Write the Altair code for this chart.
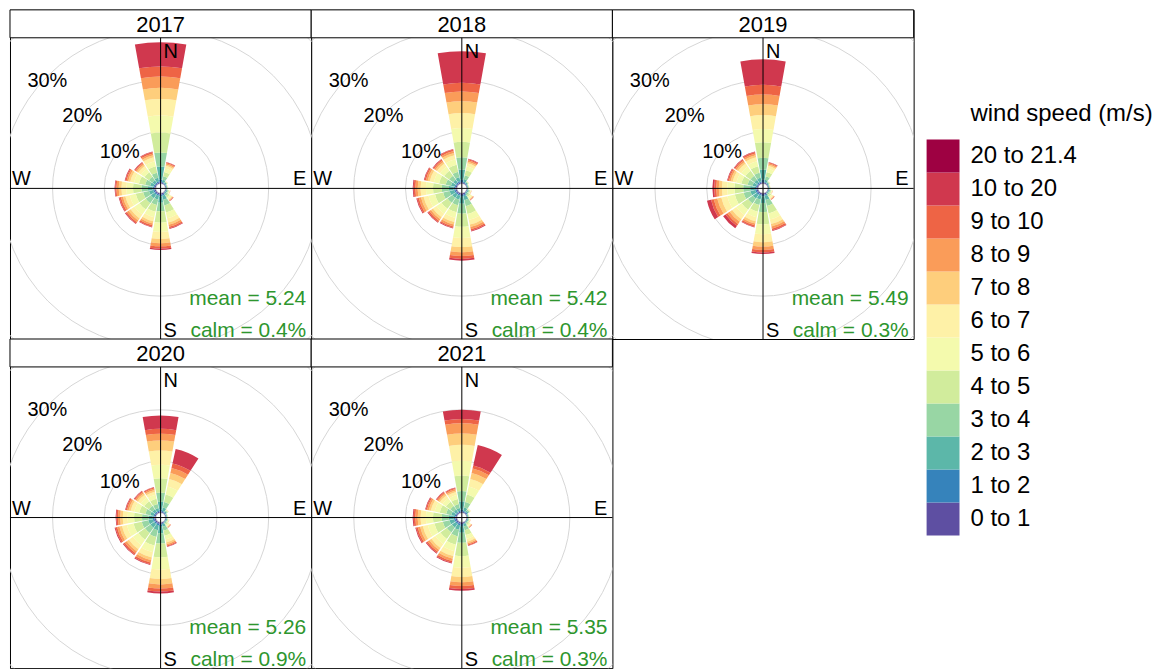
import math
import altair as alt
import pandas as pd

FONT = "Liberation Sans"

YEARS = ["2017", "2018", "2019", "2020", "2021"]
MEANS = ["5.24", "5.42", "5.49", "5.26", "5.35"]
CALMS = ["0.4%", "0.4%", "0.3%", "0.9%", "0.3%"]

DIRECTIONS = [0, 22.5, 45, 67.5, 90, 112.5, 135, 157.5,
              180, 202.5, 225, 247.5, 270, 292.5, 315, 337.5]

BINS = ["0 to 1", "1 to 2", "2 to 3", "3 to 4", "4 to 5", "5 to 6",
        "6 to 7", "7 to 8", "8 to 9", "9 to 10", "10 to 20", "20 to 21.4"]
COLORS = ["#5E4FA2", "#3683BB", "#5CB7A9", "#98D6A4", "#D1EC9C", "#F4FAAD",
          "#FEF1A7", "#FECE7C", "#FA9C59", "#EE6445", "#D0384E", "#9E0142"]

# frequency (%) per direction (rows, in DIRECTIONS order) and speed bin (columns, in BINS order)
F2017 = [
    [0.29, 0.49, 2.52, 2.72, 3.88, 3.30, 3.25, 2.15, 2.20, 1.98, 4.72, 0],
    [0.15, 0.15, 0.47, 0.69, 0.86, 0.69, 0.52, 0.28, 0.24, 0.17, 0.08, 0],
    [0.10, 0.16, 0.20, 0.14, 0.09, 0.05, 0.03, 0.02, 0.01, 0, 0, 0],
    [0.07, 0.10, 0.12, 0.09, 0.06, 0.03, 0.02, 0.01, 0, 0, 0, 0],
    [0.07, 0.10, 0.12, 0.09, 0.06, 0.03, 0.02, 0.01, 0, 0, 0, 0],
    [0.09, 0.12, 0.20, 0.18, 0.15, 0.10, 0.07, 0.04, 0.03, 0.01, 0.01, 0],
    [0.09, 0.09, 0.25, 0.34, 0.40, 0.32, 0.25, 0.14, 0.12, 0.07, 0.03, 0],
    [0.25, 0.25, 0.78, 1.14, 1.42, 1.14, 0.85, 0.46, 0.39, 0.28, 0.14, 0],
    [0.30, 0.30, 1.20, 1.70, 2.20, 1.80, 1.40, 0.80, 0.60, 0.45, 0.25, 0],
    [0.24, 0.24, 0.75, 1.09, 1.36, 1.09, 0.82, 0.44, 0.37, 0.27, 0.13, 0],
    [0.26, 0.26, 0.83, 1.20, 1.50, 1.20, 0.90, 0.49, 0.41, 0.30, 0.15, 0],
    [0.26, 0.26, 0.81, 1.18, 1.48, 1.18, 0.89, 0.48, 0.41, 0.30, 0.15, 0],
    [0.29, 0.29, 0.92, 1.28, 1.63, 1.28, 0.97, 0.53, 0.44, 0.25, 0.12, 0],
    [0.22, 0.22, 0.68, 0.99, 1.24, 0.99, 0.74, 0.40, 0.34, 0.25, 0.13, 0],
    [0.19, 0.19, 0.58, 0.85, 1.06, 0.85, 0.64, 0.34, 0.29, 0.21, 0.10, 0],
    [0.22, 0.22, 0.70, 1.02, 1.28, 1.02, 0.77, 0.42, 0.35, 0.26, 0.14, 0],
]
F2018 = [
    [0.25, 0.45, 2.00, 2.40, 3.00, 2.70, 2.90, 2.30, 1.90, 1.70, 6.15, 0],
    [0.17, 0.17, 0.54, 0.79, 0.99, 0.79, 0.59, 0.32, 0.27, 0.20, 0.12, 0],
    [0.10, 0.16, 0.20, 0.14, 0.09, 0.05, 0.03, 0.02, 0.01, 0, 0, 0],
    [0.07, 0.10, 0.12, 0.09, 0.06, 0.03, 0.02, 0.01, 0, 0, 0, 0],
    [0.07, 0.10, 0.12, 0.09, 0.06, 0.03, 0.02, 0.01, 0, 0, 0, 0],
    [0.09, 0.12, 0.20, 0.18, 0.15, 0.10, 0.07, 0.04, 0.03, 0.01, 0.01, 0],
    [0.08, 0.08, 0.23, 0.30, 0.37, 0.30, 0.22, 0.12, 0.10, 0.07, 0.03, 0],
    [0.27, 0.27, 0.84, 1.22, 1.52, 1.22, 0.91, 0.49, 0.42, 0.30, 0.14, 0],
    [0.33, 0.33, 1.35, 1.95, 2.55, 2.20, 1.75, 1.00, 0.75, 0.55, 0.34, 0],
    [0.25, 0.25, 0.77, 1.12, 1.40, 1.12, 0.84, 0.46, 0.39, 0.27, 0.13, 0],
    [0.25, 0.25, 0.79, 1.15, 1.44, 1.15, 0.86, 0.47, 0.40, 0.29, 0.15, 0],
    [0.28, 0.28, 0.89, 1.30, 1.62, 1.30, 0.97, 0.53, 0.45, 0.32, 0.16, 0],
    [0.30, 0.30, 0.95, 1.38, 1.72, 1.38, 1.03, 0.56, 0.47, 0.34, 0.17, 0],
    [0.23, 0.23, 0.73, 1.06, 1.32, 1.06, 0.79, 0.43, 0.36, 0.26, 0.13, 0],
    [0.21, 0.21, 0.66, 0.96, 1.20, 0.96, 0.72, 0.39, 0.33, 0.24, 0.12, 0],
    [0.24, 0.24, 0.76, 1.10, 1.38, 1.10, 0.83, 0.45, 0.38, 0.28, 0.14, 0],
]
F2019 = [
    [0.25, 0.45, 2.00, 2.30, 3.00, 2.60, 2.70, 2.10, 1.90, 1.90, 4.95, 0],
    [0.15, 0.15, 0.47, 0.69, 0.86, 0.69, 0.52, 0.28, 0.24, 0.17, 0.08, 0],
    [0.10, 0.16, 0.20, 0.14, 0.09, 0.05, 0.03, 0.02, 0.01, 0, 0, 0],
    [0.07, 0.10, 0.12, 0.09, 0.06, 0.03, 0.02, 0.01, 0, 0, 0, 0],
    [0.07, 0.10, 0.12, 0.09, 0.06, 0.03, 0.02, 0.01, 0, 0, 0, 0],
    [0.09, 0.12, 0.20, 0.18, 0.15, 0.10, 0.07, 0.04, 0.03, 0.01, 0.01, 0],
    [0.07, 0.07, 0.20, 0.29, 0.36, 0.29, 0.21, 0.12, 0.10, 0.07, 0.02, 0],
    [0.26, 0.26, 0.83, 1.20, 1.50, 1.20, 0.90, 0.49, 0.41, 0.30, 0.15, 0],
    [0.30, 0.30, 1.25, 1.80, 2.35, 1.95, 1.55, 0.85, 0.65, 0.50, 0.30, 0],
    [0.24, 0.24, 0.75, 1.09, 1.36, 1.09, 0.82, 0.44, 0.37, 0.27, 0.13, 0],
    [0.28, 0.28, 0.85, 1.20, 1.50, 1.25, 1.00, 0.60, 0.55, 0.42, 0.57, 0],
    [0.30, 0.30, 0.95, 1.35, 1.75, 1.50, 1.20, 0.80, 0.70, 0.55, 0.80, 0],
    [0.30, 0.30, 0.95, 1.35, 1.70, 1.40, 1.05, 0.60, 0.50, 0.40, 0.35, 0],
    [0.22, 0.22, 0.68, 0.99, 1.24, 0.99, 0.74, 0.40, 0.34, 0.25, 0.13, 0],
    [0.21, 0.21, 0.66, 0.96, 1.20, 0.96, 0.72, 0.39, 0.33, 0.24, 0.12, 0],
    [0.22, 0.22, 0.70, 1.02, 1.28, 1.02, 0.77, 0.42, 0.35, 0.26, 0.14, 0],
]
F2020 = [
    [0.20, 0.40, 1.50, 1.80, 2.80, 2.60, 2.80, 1.95, 1.30, 0.95, 2.60, 0],
    [0.12, 0.20, 0.70, 1.10, 1.50, 1.60, 1.50, 1.20, 1.00, 0.90, 2.88, 0],
    [0.12, 0.18, 0.24, 0.18, 0.12, 0.07, 0.05, 0.02, 0.01, 0.01, 0, 0],
    [0.07, 0.10, 0.12, 0.09, 0.06, 0.03, 0.02, 0.01, 0, 0, 0, 0],
    [0.07, 0.10, 0.12, 0.09, 0.06, 0.03, 0.02, 0.01, 0, 0, 0, 0],
    [0.08, 0.10, 0.16, 0.14, 0.12, 0.08, 0.06, 0.03, 0.02, 0.01, 0, 0],
    [0.06, 0.06, 0.17, 0.24, 0.30, 0.24, 0.18, 0.10, 0.08, 0.05, 0.02, 0],
    [0.17, 0.17, 0.54, 0.78, 0.98, 0.78, 0.59, 0.32, 0.27, 0.20, 0.10, 0],
    [0.35, 0.35, 1.40, 2.00, 2.70, 2.35, 1.85, 1.05, 0.80, 0.60, 0.35, 0],
    [0.30, 0.30, 0.94, 1.36, 1.70, 1.36, 1.02, 0.55, 0.47, 0.34, 0.16, 0],
    [0.28, 0.28, 0.88, 1.28, 1.60, 1.28, 0.96, 0.52, 0.44, 0.32, 0.16, 0],
    [0.29, 0.29, 0.90, 1.31, 1.64, 1.31, 0.98, 0.53, 0.45, 0.33, 0.17, 0],
    [0.27, 0.27, 0.86, 1.25, 1.56, 1.25, 0.94, 0.51, 0.43, 0.31, 0.15, 0],
    [0.21, 0.21, 0.67, 0.98, 1.22, 0.98, 0.73, 0.40, 0.34, 0.24, 0.12, 0],
    [0.19, 0.19, 0.59, 0.86, 1.08, 0.86, 0.65, 0.35, 0.30, 0.22, 0.11, 0],
    [0.18, 0.18, 0.56, 0.82, 1.02, 0.82, 0.61, 0.33, 0.28, 0.20, 0.10, 0],
]
F2021 = [
    [0.20, 0.40, 1.60, 2.00, 3.00, 2.90, 3.10, 2.20, 2.00, 0.80, 1.80, 0],
    [0.12, 0.20, 0.70, 1.10, 1.50, 1.60, 1.50, 1.20, 0.88, 0.60, 4.10, 0],
    [0.14, 0.22, 0.29, 0.22, 0.14, 0.09, 0.06, 0.02, 0.01, 0.01, 0, 0],
    [0.07, 0.10, 0.12, 0.09, 0.06, 0.03, 0.02, 0.01, 0, 0, 0, 0],
    [0.07, 0.10, 0.12, 0.09, 0.06, 0.03, 0.02, 0.01, 0, 0, 0, 0],
    [0.08, 0.10, 0.16, 0.14, 0.12, 0.08, 0.06, 0.03, 0.02, 0.01, 0, 0],
    [0.06, 0.06, 0.17, 0.24, 0.30, 0.24, 0.18, 0.10, 0.08, 0.05, 0.02, 0],
    [0.16, 0.16, 0.52, 0.75, 0.94, 0.75, 0.56, 0.31, 0.26, 0.19, 0.10, 0],
    [0.33, 0.33, 1.35, 1.95, 2.60, 2.25, 1.80, 1.00, 0.75, 0.60, 0.34, 0],
    [0.29, 0.29, 0.90, 1.31, 1.64, 1.31, 0.98, 0.53, 0.45, 0.33, 0.17, 0],
    [0.27, 0.27, 0.84, 1.22, 1.52, 1.22, 0.91, 0.49, 0.42, 0.30, 0.14, 0],
    [0.29, 0.29, 0.91, 1.33, 1.66, 1.33, 1.00, 0.54, 0.46, 0.33, 0.16, 0],
    [0.30, 0.30, 0.95, 1.38, 1.72, 1.38, 1.03, 0.56, 0.47, 0.34, 0.17, 0],
    [0.22, 0.22, 0.70, 1.02, 1.27, 1.02, 0.76, 0.41, 0.35, 0.25, 0.13, 0],
    [0.18, 0.18, 0.57, 0.83, 1.04, 0.83, 0.62, 0.34, 0.29, 0.21, 0.11, 0],
    [0.18, 0.18, 0.55, 0.80, 1.00, 0.80, 0.60, 0.33, 0.28, 0.19, 0.09, 0],
]
FREQS = [F2017, F2018, F2019, F2020, F2021]

RING_VALUES = [10, 20, 30, 40]
RING_LABELS = ["10%", "20%", "30%"]

# ---- layout constants (pixels / styling only) ----
PW = 302          # panel width
HH = 28           # strip height
BH = 302          # panel body height
CX = PW / 2
CY = HH + BH / 2
HALF_WEDGE = 10.125   # 0.9 * 22.5 / 2 degrees
OFFSET = 0.97     # size of the central hole, in % units
PX_PER_PCT = 5.15
RMAX = 45

theta_scale = alt.Scale(domain=[0, 360], range=[0, 2 * math.pi], nice=False, zero=False)
r_scale = alt.Scale(type="linear", domain=[-OFFSET, RMAX],
                    range=[0, PX_PER_PCT * (RMAX + OFFSET)], nice=False, zero=False)
color_scale = alt.Scale(domain=BINS, range=COLORS)


def wedge_table(freq):
    rows = []
    for d, vals in zip(DIRECTIONS, freq):
        cum = 0.0
        for b, v in zip(BINS, vals):
            lo = cum
            cum += v
            if v > 0:
                rows.append({"dir": d, "bin": b, "lo": lo, "hi": cum,
                             "t1": d - HALF_WEDGE, "t2": d + HALF_WEDGE})
    return pd.DataFrame(rows)


ring_df = pd.DataFrame({"r": RING_VALUES, "a": [0] * len(RING_VALUES),
                        "b": [360] * len(RING_VALUES)})
one = pd.DataFrame({"k": [0]})


def txt(s, x, y, align="left", size=20, color="black"):
    return alt.Chart(one).mark_text(font=FONT, fontSize=size, color=color, align=align,
                                    baseline="alphabetic").encode(
        x=alt.value(x), y=alt.value(y), text=alt.value(s))


def panel(i):
    wd = wedge_table(FREQS[i])
    rings = alt.Chart(ring_df).mark_arc(filled=False, stroke="#d6d6d6", strokeWidth=1, clip=True).encode(
        x=alt.value(CX), y=alt.value(CY),
        theta=alt.Theta("a:Q", scale=theta_scale, stack=None),
        theta2="b:Q",
        radius=alt.Radius("r:Q", scale=r_scale),
    )
    wedges = alt.Chart(wd).mark_arc(strokeWidth=0).encode(
        x=alt.value(CX), y=alt.value(CY),
        theta=alt.Theta("t1:Q", scale=theta_scale, stack=None),
        theta2="t2:Q",
        radius=alt.Radius("hi:Q", scale=r_scale),
        radius2="lo:Q",
        color=alt.Color("bin:N", scale=color_scale, legend=None),
    )
    strip = alt.Chart(one).mark_rect(fill="white", stroke="black", strokeWidth=1).encode(
        x=alt.value(0), x2=alt.value(PW), y=alt.value(0), y2=alt.value(HH))
    year = txt(YEARS[i], CX, 22, align="center", size=22)
    vline = alt.Chart(one).mark_rule(color="black", strokeWidth=1).encode(
        x=alt.value(CX), y=alt.value(HH), y2=alt.value(HH + BH))
    hline = alt.Chart(one).mark_rule(color="black", strokeWidth=1).encode(
        x=alt.value(0), x2=alt.value(PW), y=alt.value(CY))
    layers = [rings, strip, year, wedges, vline, hline,
              txt(RING_LABELS[0], 110, HH + 121, align="center"),
              txt(RING_LABELS[1], 72.5, HH + 84, align="center"),
              txt(RING_LABELS[2], 37.5, HH + 49, align="center"),
              txt("N", CX + 3, HH + 20.5), txt("S", CX + 3, HH + 300),
              txt("W", 2, HH + 148), txt("E", PW - 5, HH + 148, align="right"),
              txt("mean = " + MEANS[i], PW - 5, HH + 268, align="right", size=21, color="#2E962E"),
              txt("calm = " + CALMS[i], PW - 5, HH + 300, align="right", size=21, color="#2E962E")]
    return alt.layer(*layers).properties(
        width=PW, height=HH + BH,
        view=alt.ViewBackground(stroke="black", strokeWidth=1, fill="white"))


grid = alt.concat(*[panel(i) for i in range(5)], columns=3, spacing=0, bounds="flush")

# ---- legend ----
leg_df = pd.DataFrame({"bin": BINS})
leg_y = alt.Y("bin:N", sort=BINS[::-1],
              scale=alt.Scale(domain=BINS[::-1], range=[130, 527], paddingInner=0, paddingOuter=0),
              axis=None)
boxes = alt.Chart(leg_df).mark_rect().encode(
    x=alt.value(11), x2=alt.value(44), y=leg_y,
    color=alt.Color("bin:N", scale=color_scale, legend=None))
leg_text = alt.Chart(leg_df).mark_text(align="left", baseline="middle", font=FONT,
                                       fontSize=24, color="black").encode(
    x=alt.value(55), y=leg_y, text="bin:N")
leg_title = alt.Chart(one).mark_text(align="left", baseline="middle", font=FONT,
                                     fontSize=24, color="black").encode(
    x=alt.value(55), y=alt.value(104), text=alt.value("wind speed (m/s)"))
legend = alt.layer(boxes, leg_text, leg_title).properties(
    width=240, height=2 * (HH + BH), view=alt.ViewBackground(stroke="transparent"))

chart = alt.hconcat(grid, legend, spacing=0).properties(
    padding={"left": 1, "top": 0, "right": 0, "bottom": 0}
).configure(background="white")

chart.save("out.html", embed_options={"renderer": "svg", "actions": False})
